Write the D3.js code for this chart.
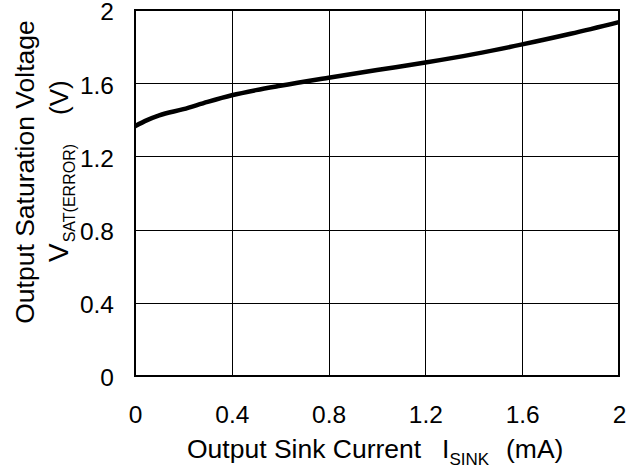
<!DOCTYPE html>
<html>
<head>
<meta charset="utf-8">
<script src="https://cdn.jsdelivr.net/npm/d3@7"></script>
<style>
  html, body { margin: 0; padding: 0; background: #fff; }
  svg { display: block; font-family: "Liberation Sans", Arial, sans-serif; }
  text { white-space: pre; }
</style>
</head>
<body>
<svg id="chart" width="639" height="472"></svg>
<script>
// Data
const sinkCurrent = [0, 0.05, 0.1, 0.2, 0.3, 0.4, 0.5, 0.6, 0.8, 1.0, 1.2, 1.4, 1.6, 1.8, 2.0];
const satVoltage  = [1.365, 1.398, 1.424, 1.458, 1.498, 1.534, 1.562, 1.586, 1.630, 1.672, 1.713, 1.759, 1.812, 1.870, 1.934];
const xTicks = [0, 0.4, 0.8, 1.2, 1.6, 2];
const yTicks = [0, 0.4, 0.8, 1.2, 1.6, 2];
const xTickLabels = ["0", "0.4", "0.8", "1.2", "1.6", "2"];
const yTickLabels = ["0", "0.4", "0.8", "1.2", "1.6", "2"];

const svg = d3.select("#chart");
const pL = 135, pR = 619, pT = 10, pB = 376;

const x = d3.scaleLinear().domain([0, 2]).range([pL, pR]);
const y = d3.scaleLinear().domain([0, 2]).range([pB, pT]);

// Grid lines
const grid = svg.append("g");
grid.selectAll("line.vx").data(xTicks.slice(1, -1)).enter().append("line")
  .attr("x1", d => Math.round(x(d)) + 0.5).attr("x2", d => Math.round(x(d)) + 0.5)
  .attr("y1", pT).attr("y2", pB)
  .attr("stroke", "#000").attr("stroke-width", 1);
grid.selectAll("line.hy").data(yTicks.slice(1, -1)).enter().append("line")
  .attr("y1", d => Math.round(y(d)) + 0.5).attr("y2", d => Math.round(y(d)) + 0.5)
  .attr("x1", pL).attr("x2", pR)
  .attr("stroke", "#000").attr("stroke-width", 1);

// Curve
const line = d3.line().x((d, i) => x(sinkCurrent[i])).y(d => y(d)).curve(d3.curveMonotoneX);
svg.append("path").datum(satVoltage)
  .attr("d", line)
  .attr("fill", "none").attr("stroke", "#000").attr("stroke-width", 4.5)
  .attr("stroke-linejoin", "round");

// Plot frame
svg.append("rect")
  .attr("x", pL).attr("y", pT).attr("width", pR - pL).attr("height", pB - pT)
  .attr("fill", "none").attr("stroke", "#000").attr("stroke-width", 2);

// Axes (labels only, via d3 axes)
const xAxis = d3.axisBottom(x).tickValues(xTicks).tickFormat((d, i) => xTickLabels[i]).tickSize(0).tickPadding(0);
const gx = svg.append("g").attr("transform", `translate(0, 423)`).call(xAxis);
gx.select(".domain").remove();
gx.selectAll("text").attr("dy", 0).attr("y", 0).attr("font-size", 24.5)
  .attr("font-family", "Liberation Sans, Arial, sans-serif").attr("fill", "#000");

const yAxis = d3.axisLeft(y).tickValues(yTicks).tickFormat((d, i) => yTickLabels[i]).tickSize(0).tickPadding(0);
const gy = svg.append("g").attr("transform", `translate(114, 0)`).call(yAxis);
gy.select(".domain").remove();
gy.selectAll("text").attr("x", 0).attr("dy", "0.4em").attr("font-size", 24.5)
  .attr("font-family", "Liberation Sans, Arial, sans-serif").attr("fill", "#000");

// X title
const xt = svg.append("text")
  .attr("x", 187).attr("y", 458)
  .attr("text-anchor", "start").attr("font-size", 26.5).attr("fill", "#000");
xt.append("tspan").text("Output Sink Current");
xt.append("tspan").attr("x", 442).text("I");
xt.append("tspan").attr("font-size", 17).attr("dy", 7).text("SINK");
xt.append("tspan").attr("dy", -7).attr("x", 506).text("(mA)");

// Y title (two lines)
svg.append("text")
  .attr("transform", "translate(34, 172) rotate(-90)")
  .attr("text-anchor", "middle").attr("font-size", 26.5).attr("fill", "#000")
  .text("Output Saturation Voltage");
const yt2 = svg.append("text")
  .attr("transform", "translate(68, 262) rotate(-90)")
  .attr("text-anchor", "start").attr("font-size", 26).attr("fill", "#000");
yt2.append("tspan").attr("font-size", 28).text("V");
yt2.append("tspan").attr("font-size", 16).attr("dy", 7).attr("dx", 1).text("SAT(ERROR)");
yt2.append("tspan").attr("dy", -7).attr("x", 147).text("(V)");
</script>
</body>
</html>
